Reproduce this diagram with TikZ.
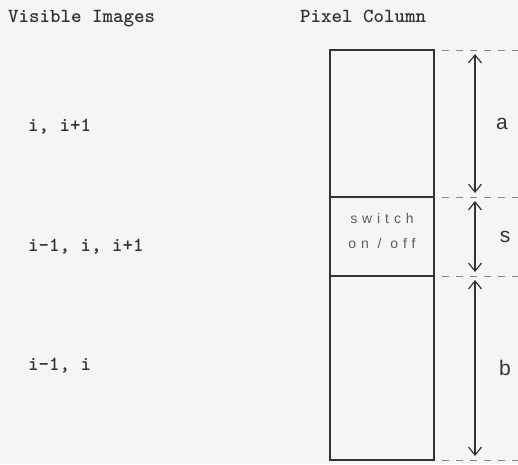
\documentclass[tikz,border=0pt]{standalone}
\usepackage{fontspec}
\usepackage{xcolor}
\newfontfamily\spanfont{Liberation Sans}
\newfontfamily\switchfont[LetterSpace=35]{Liberation Sans}
\usetikzlibrary{arrows.meta,positioning}
\definecolor{paper}{HTML}{F5F5F5}
\definecolor{ink}{HTML}{333333}

\begin{document}
\begin{tikzpicture}[x=1pt,y=-1pt,
  heading/.style={anchor=base west,inner sep=0pt,text=ink,
    font=\fontsize{20}{24}\selectfont\ttfamily\bfseries},
  segment/.style={draw=ink,line width=1.3pt,minimum width=104pt,
    inner sep=0pt,outer sep=0pt,anchor=north west},
  guide/.style={draw=ink!60,line width=0.9pt,dash pattern=on 7pt off 7pt},
  span/.style={draw=ink,line width=1.2pt,shorten <=4pt,shorten >=4pt,
    {Straight Barb[length=8pt,width=13pt]}-{Straight Barb[length=8pt,width=13pt]}},
  spanlabel/.style={text=ink,font=\fontsize{21}{24}\selectfont\spanfont}]

  % page
  \fill[paper] (0,0) rectangle (518,464);
  \useasboundingbox (0,0) rectangle (518,464);

  % headings
  \node[heading] (visible) at (8,22) {Visible Images};
  \node[heading] (pixel) at (300,22) {Pixel Column};

  % visible images per part of the column
  \node[heading] (imga) at (28,131) {i, i+1};
  \node[heading] (imgs) at (28,251) {i-1, i, i+1};
  \node[heading] (imgb) at (28,370) {i-1, i};

  % the pixel column, three parts
  \node[segment,minimum height=147pt] (aseg) at (330,50) {};
  \node[segment,minimum height=79pt] (sseg) at (aseg.south west) {};
  \node[segment,minimum height=184pt] (bseg) at (sseg.south west) {};
  \node[text=ink!80,align=center,inner sep=0pt,
    font=\fontsize{14}{25}\selectfont\switchfont]
    (swlabel) at ([yshift=6pt]sseg.center) {switch\\on / off};

  % dashed guides to the right
  \foreach \edge in {aseg.north east,aseg.south east,bseg.north east,bseg.south east}{
    \draw[guide] ([xshift=8pt]\edge) -- ++(76,0);
  }

  % extents
  \coordinate (ruler) at (475,0);
  \coordinate (e0) at (ruler |- aseg.north);
  \coordinate (e1) at (ruler |- sseg.north);
  \coordinate (e2) at (ruler |- bseg.north);
  \coordinate (e3) at (ruler |- bseg.south);
  \draw[span] (e0) -- (e1) node[midway,xshift=27pt,spanlabel] {a};
  \draw[span] (e1) -- (e2) node[midway,xshift=30pt,spanlabel] {s};
  \draw[span] (e2) -- (e3) node[midway,xshift=30pt,spanlabel] {b};
\end{tikzpicture}
\end{document}
